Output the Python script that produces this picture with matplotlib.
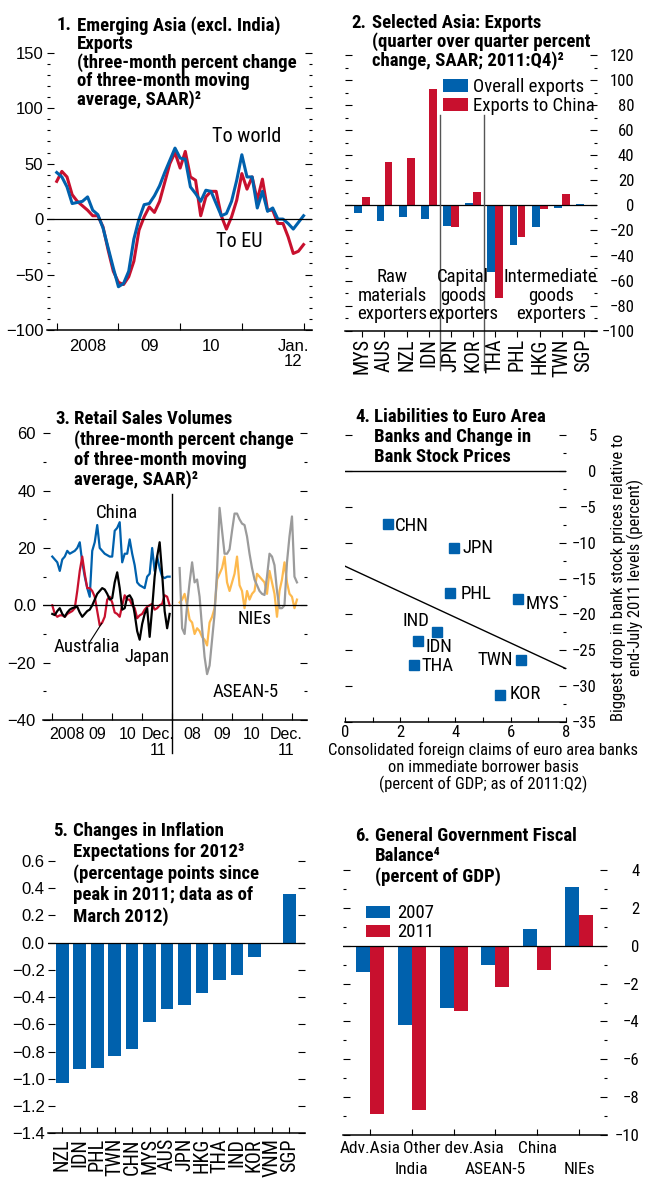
import os
import numpy as np
import matplotlib
matplotlib.use("Agg")
import matplotlib.pyplot as plt
from matplotlib import font_manager as fm
from matplotlib.ticker import MultipleLocator, FuncFormatter

WIDE = ['Liberation Sans', 'DejaVu Sans']
plt.rcParams['font.family'] = WIDE

BLUE = '#0061AD'
RED = '#C8102E'
ORANGE = '#FDB94E'
GRAY = '#9B9B9B'

W, H = 647, 1178

# 1. Экспорт: помесячно, янв. 2008 - янв. 2012
exports_world = [42, 38, 29, 14, 15, 16, 20, 8, 4, -8, -26, -44, -61, -58, -47, -18,
                 0, 13, 14, 21, 30, 42, 53, 64, 55, 54, 29, 23, 16, 26, 25, 14, 3, 5,
                 16, 35, 58, 38, 38, 10, 25, 7, 10, 0, 0, -4, -9, -3, 3]
exports_eu = [34, 43, 38, 22, 16, 12, 8, 3, 3, -7, -28, -47, -57, -59, -52, -38,
              -10, 2, 11, 6, 16, 33, 50, 60, 46, 61, 38, 35, 3, 20, 25, 25, 3, -9,
              2, 17, 41, 27, 38, 17, 36, 8, 8, -4, -4, -16, -31, -29, -23]
p1_year_labels = ['2008', '09', '10', 'Jan.\n12']

# 2. Экспорт по странам, 2011:Q4
p2_countries = ['MYS', 'AUS', 'NZL', 'IDN', 'JPN', 'KOR', 'THA', 'PHL', 'HKG', 'TWN', 'SGP']
p2_overall = [-6, -12.5, -9, -10.5, -16.5, 2, -53, -32, -17, -2, 1]
p2_china = [7, 35, 37.5, 92.5, -17.5, 10.5, -74, -25, -3, 9, 0]
p2_groups = ['Raw\nmaterials\nexporters', 'Capital\ngoods\nexporters',
             'Intermediate\ngoods\nexporters']
p2_group_sizes = [4, 2, 5]

# 3. Розничные продажи: янв. 2008 - дек. 2011 (левая часть)
retail_china = [17, 16, 15, 12, 16, 17, 19, 18, 18.5, 19, 20, 22, 15, 10, 6, 3,
                19, 22, 28, 20, 19, 18, 17.5, 17, 17, 26, 27, 29, 15, 18, 18, 23,
                18, 14, 8, 7, 6.5, 6, 10, 11, 20, 12, 17, 13, 10, 9.5, 10, 10]
retail_australia = [0, -3, -4, -3.5, -3.5, -4, -3, -2.5, -2, -1, 5, 12, 17, 11, 6, 6,
                    5, 3, -2, -7, -6, -4, 2, 3, 1, -2.5, -3, -4, 0, 3.5, 2, 2,
                    0, -1, -4.5, -3.5, -3, -1.5, -0.5, 0, 0.5, -1.5, -1, 0, 0.5, 3.5, 3, 0]
retail_japan = [-3, -3.4, -2, -1, -3, -4, -2.5, -1.5, -1, -0.7, -0.5, -2.5, -4, -3, -2, -1.5,
                0, 2, 4, 5, 6, 5.5, 4, 2, 2.5, 8, 11.5, 6, -1.5, -1, 3, 3.5,
                2, -3, -9, -12, -6.5, -3, -1, -11, -1, 10, 17, 22, 11, -2, -8, -3]
# правая часть: апр. 2008 - март 2012
retail_asean5 = [13, -8, -10, 0, 8, 15, 8, 9, 3, -8, -18, -24, -21, -12, -3, 12,
                 34, 26, 18, 18, 19.5, 26, 32, 32, 30, 28.5, 28, 24, 18, 13, 9, 7,
                 5, 4, 3.6, 10, 18, 17, 14, 5, -1, -1, 0, 15, 24, 31, 10, 8]
retail_nies = [1, 2, 4, 0, -5, -6, -10, -8, -9, -11, -12, -14, -6, -4, -1, 9,
               11, 13, 17, 8, 5, 8, 11, 17, 7, 5, -1, 5, 2, 4, 5, 11,
               10, 9, 8, 4, 12, 8, 4, -4, 5, 9, 15, 8, 4, 3, -1, 2]
p3_left_labels = ['2008', '09', '10', 'Dec.\n11']
p3_right_labels = ['08', '09', '10', 'Dec.\n11']

# 4. Требования банков еврозоны и падение курсов акций банков
p4_countries = ['CHN', 'JPN', 'PHL', 'MYS', 'IND', 'IDN', 'THA', 'TWN', 'KOR']
p4_claims = [1.56, 3.95, 3.81, 6.27, 3.32, 2.63, 2.5, 6.38, 5.62]
p4_drop = [-7.4, -10.7, -17.0, -17.9, -22.4, -23.75, -27.1, -26.4, -31.2]

# 5. Инфляционные ожидания
p5_countries = ['NZL', 'IDN', 'PHL', 'TWN', 'CHN', 'MYS', 'AUS', 'JPN', 'HKG', 'THA',
                'IND', 'KOR', 'VNM', 'SGP']
p5_change = [-1.03, -0.93, -0.92, -0.83, -0.78, -0.58, -0.49, -0.455, -0.37, -0.275,
             -0.235, -0.105, 0.0, 0.355]

# 6. Сальдо бюджета
p6_groups = ['Adv.Asia', 'India', 'Other dev.Asia', 'ASEAN-5', 'China', 'NIEs']
fiscal_2007 = [-1.4, -4.2, -3.3, -1.0, 0.9, 3.1]
fiscal_2011 = [-8.9, -8.7, -3.45, -2.2, -1.3, 1.6]


def find_condensed():
    """Ищем узкий шрифт среди установленных (regular, bold)."""
    files = {os.path.basename(f.fname).lower(): f.fname for f in fm.fontManager.ttflist}
    prefs = [('liberationsansnarrow-regular', 'liberationsansnarrow-bold.'),
             ('robotocondensed-regular', 'robotocondensed-bold.'),
             ('notosans-condensed.', 'notosans-condensedbold.'),
             ('dejavusanscondensed.', 'dejavusanscondensed-bold.'),
             ('opensans-condensedregular', 'opensans-condensedbold.')]
    for reg, bold in prefs:
        r = [p for n, p in files.items() if n.startswith(reg)]
        b = [p for n, p in files.items() if n.startswith(bold)]
        if r:
            return r[0], (b[0] if b else None)
    bad = ('semi', 'extra', 'ital', 'obli', 'light', 'thin', 'medium', 'black')
    r = [p for n, p in files.items() if ('condensed' in n or 'narrow' in n)
         and 'bold' not in n and not any(w in n for w in bad)]
    b = [p for n, p in files.items() if ('condensed' in n or 'narrow' in n)
         and 'bold' in n and not any(w in n for w in bad)]
    return (r[0] if r else None), (b[0] if b else None)


COND_REG, COND_BOLD = find_condensed()


def nfp(size, bold=False):
    path = COND_BOLD if bold else COND_REG
    if path:
        fp = fm.FontProperties(fname=path, size=size)
        if bold and not COND_BOLD:
            fp.set_weight('bold')
        return fp
    return fm.FontProperties(family='DejaVu Sans', size=size * 0.85,
                             weight='bold' if bold else 'normal')


fig = plt.figure(figsize=(W / 100, H / 100), dpi=100)
fig.patch.set_facecolor('white')


def px_axes(left, top, right, bottom):
    """Оси по пиксельным координатам (отсчёт сверху)."""
    return fig.add_axes([left / W, 1 - bottom / H, (right - left) / W, (bottom - top) / H])


def base_style(ax):
    for s in ('left', 'right', 'top'):
        ax.spines[s].set_visible(False)
    ax.spines['bottom'].set_linewidth(1.1)
    ax.patch.set_alpha(0)


def y_ticks(ax, major, minor, side, size, narrow, pad):
    ax.yaxis.set_major_locator(MultipleLocator(major))
    if minor:
        ax.yaxis.set_minor_locator(MultipleLocator(minor))
    ax.tick_params(axis='y', which='both', direction='in', left=True, right=True,
                   labelleft=(side == 'left'), labelright=(side == 'right'), width=0.8)
    ax.tick_params(axis='y', which='major', length=5, pad=pad, labelsize=size)
    ax.tick_params(axis='y', which='minor', length=2.5)
    for t in ax.yaxis.get_major_ticks():
        if side == 'right':
            t.label2.set_horizontalalignment('right')
        if narrow:
            t.label1.set_fontproperties(nfp(size))
            t.label2.set_fontproperties(nfp(size))


def title(num, text, x_num, x_text, top, ls):
    fig.text(x_num / W, 1 - top / H, num, fontproperties=nfp(13.5, True), va='top')
    fig.text(x_text / W, 1 - top / H, text, fontproperties=nfp(13.5, True), va='top',
             linespacing=ls)


minus = lambda s: s.replace('-', '\u2212')

# ---------- 1 ----------
ax1 = px_axes(46.7, 52.7, 312.3, 330)
base_style(ax1)
m1 = np.arange(len(exports_world))
ax1.plot(m1, exports_eu, color=RED, lw=2.2)
ax1.plot(m1, exports_world, color=BLUE, lw=2.2)
ax1.axhline(0, color='black', lw=0.9)
ax1.set_xlim(-1.95, 49.7)
ax1.set_ylim(-100, 150)
y_ticks(ax1, 50, 10, 'left', 12, False, 2.5)
ax1.set_xticks([0, 12, 24, 36, 48])
ax1.tick_params(axis='x', direction='in', length=5, width=0.8, labelbottom=False)
for xpos, lab in zip([6, 18, 30, 46], p1_year_labels):
    ax1.text(xpos, -0.033, lab, transform=ax1.get_xaxis_transform(), ha='center', va='top',
             fontsize=12, linespacing=1.0)
ax1.text(37, 74, 'To world', ha='center', va='center', fontproperties=nfp(14.5))
ax1.text(35.5, -20, 'To EU', ha='center', va='center', fontproperties=nfp(14.5))
title('1.', 'Emerging Asia (excl. India)\nExports\n(three-month percent change\n'
      'of three-month moving\naverage, SAAR)\u00b2', 56.7, 77.3, 16.5, 1.0)

# ---------- 2 ----------
ax2 = px_axes(345, 55, 597.3, 330.7)
base_style(ax2)
x2 = np.arange(len(p2_countries))
ax2.bar(x2 - 0.18, p2_overall, 0.35, color=BLUE, label='Overall exports')
ax2.bar(x2 + 0.18, p2_china, 0.35, color=RED, label='Exports to China')
ax2.axhline(0, color='black', lw=0.9)
ax2.set_xlim(-0.78, 10.6)
ax2.set_ylim(-100, 120)
y_ticks(ax2, 20, 10, 'right', 12, True, 26.6)
ax2.set_xticks(x2)
ax2.set_xticklabels(p2_countries, rotation=90, fontproperties=nfp(14.5))
ax2.tick_params(axis='x', direction='out', length=4, width=0.8, pad=1.5)
bounds = np.cumsum(p2_group_sizes)[:-1] - 0.5
for b in bounds:
    ax2.plot([b, b], [72, -131], color='#555555', lw=1, clip_on=False)
for xpos, lab in zip([1.35, 4.55, 8.5], p2_groups):
    ax2.text(xpos, -72, lab, ha='center', va='center', fontproperties=nfp(13.5),
             linespacing=1.05)
ax2.legend(loc='upper left', bbox_to_anchor=(0.39, 0.915), frameon=False, prop=nfp(13.5),
           handlelength=1.3, handleheight=0.7, labelspacing=0.05, handletextpad=0.3,
           borderpad=0, borderaxespad=0)
title('2.', 'Selected Asia: Exports\n(quarter over quarter percent\nchange, SAAR; 2011:Q4)\u00b2',
      351.7, 371.7, 14.5, 1.0)

# ---------- 3 ----------
ax3 = px_axes(43.3, 433.3, 306.7, 720)
base_style(ax3)
xl = np.arange(len(retail_china))
xr = 51 + np.arange(len(retail_asean5))
ax3.plot(xl, retail_china, color=BLUE, lw=1.6)
ax3.plot(xl, retail_australia, color=RED, lw=1.6)
ax3.plot(xl, retail_japan, color='black', lw=1.6)
ax3.plot(xr, retail_nies, color=ORANGE, lw=1.6)
ax3.plot(xr, retail_asean5, color=GRAY, lw=1.6)
ax3.axhline(0, color='black', lw=0.9)
ax3.set_xlim(-3.6, 101.9)
ax3.set_ylim(-40, 60)
y_ticks(ax3, 20, 10, 'left', 12, False, 5.3)
ax3.yaxis.set_major_formatter(FuncFormatter(
    lambda v, _: '0.0' if v == 0 else minus(f'{v:.0f}')))
ax3.set_xticks([0, 12, 24, 36, 48, 60, 72, 84, 96])
ax3.tick_params(axis='x', direction='in', length=5, width=0.8, labelbottom=False)
for xpos, lab in zip([6, 18, 30, 42.3, 56, 68, 80, 93.5],
                     p3_left_labels + p3_right_labels):
    ax3.text(xpos, -0.023, lab, transform=ax3.get_xaxis_transform(), ha='center', va='top',
             fontsize=11.5, linespacing=1.15)
ax3.plot([48, 48], [39, -51.5], color='black', lw=1, clip_on=False)
ax3.text(25.9, 32.2, 'China', ha='center', va='center', fontproperties=nfp(13.5))
ax3.text(13.8, -14.7, 'Australia', ha='center', va='center', fontproperties=nfp(13.5))
ax3.plot([15.1, 19.8], [-12.7, -6.3], color='black', lw=0.8)
ax3.text(38, -17.9, 'Japan', ha='center', va='center', fontproperties=nfp(13.5))
ax3.text(81, -4.8, 'NIEs', ha='center', va='center', fontproperties=nfp(13.5))
ax3.text(77.6, -30.4, 'ASEAN-5', ha='center', va='center', fontproperties=nfp(13.5))
title('3.', 'Retail Sales Volumes\n(three-month percent change\nof three-month moving\n'
      'average, SAAR)\u00b2', 55, 74, 410.5, 1.12)

# ---------- 4 ----------
ax4 = px_axes(345, 433.3, 565.7, 721.7)
base_style(ax4)
ax4.plot(p4_claims, p4_drop, 's', color=BLUE, markersize=7.5, zorder=3)
coef = np.polyfit(p4_claims, p4_drop, 1)
xs = np.array([0, 8])
ax4.plot(xs, np.polyval(coef, xs), color='black', lw=1)
ax4.axhline(0, color='black', lw=1)
offsets = {'CHN': (7, -2, 'left'), 'JPN': (9, 0, 'left'), 'PHL': (11, -1, 'left'),
           'MYS': (8, -5, 'left'), 'IND': (-7, 11, 'right'), 'IDN': (8, -6, 'left'),
           'THA': (8, -1, 'left'), 'TWN': (-8, 0, 'right'), 'KOR': (10, 1, 'left')}
for name, cx, cy in zip(p4_countries, p4_claims, p4_drop):
    dx, dy, ha = offsets[name]
    ax4.annotate(name, (cx, cy), xytext=(dx, dy), textcoords='offset pixels',
                 ha=ha, va='center', fontproperties=nfp(13.5))
ax4.set_xlim(0, 8)
ax4.set_ylim(-35, 5.3)
y_ticks(ax4, 5, 2.5, 'right', 12, True, 22.3)
ax4.tick_params(axis='y', which='minor', left=False)
ax4.xaxis.set_major_locator(MultipleLocator(2))
ax4.xaxis.set_minor_locator(MultipleLocator(1))
ax4.tick_params(axis='x', which='both', direction='in', length=3.5, width=0.8, pad=2.5)
for t in ax4.xaxis.get_major_ticks():
    t.label1.set_fontproperties(nfp(12))
ax4.text(1.28, 0.5, 'Biggest drop in bank stock prices relative to\nend-July 2011 levels (percent)',
         transform=ax4.transAxes, rotation=90, ha='center', va='center',
         fontproperties=nfp(12), linespacing=1.1)
ax4.text(0.625, -0.072, 'Consolidated foreign claims of euro area banks\n'
         'on immediate borrower basis\n(percent of GDP; as of 2011:Q2)',
         transform=ax4.transAxes, ha='center', va='top', fontproperties=nfp(12),
         linespacing=1.1)
title('4.', 'Liabilities to Euro Area\nBanks and Change in\nBank Stock Prices', 355, 374, 407.5, 1.15)

# ---------- 5 ----------
ax5 = px_axes(48.3, 861, 305, 1133.3)
base_style(ax5)
x5 = np.arange(len(p5_countries))
ax5.bar(x5, p5_change, 0.73, color=BLUE)
ax5.axhline(0, color='black', lw=0.9)
ax5.set_xlim(-0.8, 13.9)
ax5.set_ylim(-1.4, 0.6)
y_ticks(ax5, 0.2, None, 'left', 12, False, 2.5)
ax5.yaxis.set_major_formatter(FuncFormatter(lambda v, _: minus(f'{v:.1f}')))
ax5.set_xticks(x5)
ax5.set_xticklabels(p5_countries, rotation=90, fontproperties=nfp(14.5))
ax5.tick_params(axis='x', direction='in', length=4, width=0.8, pad=3.4)
title('5.', 'Changes in Inflation\nExpectations for 2012\u00b3\n(percentage points since\n'
      'peak in 2011; data as of\nMarch 2012)', 53.3, 72.7, 821.5, 1.22)

# ---------- 6 ----------
ax6 = px_axes(342.7, 870, 606.7, 1135)
base_style(ax6)
x6 = np.arange(len(p6_groups))
ax6.bar(x6 - 0.1675, fiscal_2007, 0.335, color=BLUE, label='2007')
ax6.bar(x6 + 0.1675, fiscal_2011, 0.335, color=RED, label='2011')
ax6.axhline(0, color='black', lw=0.9)
ax6.set_xlim(-0.653, 5.66)
ax6.set_ylim(-10, 4)
y_ticks(ax6, 2, 1, 'right', 12, True, 23.5)
ax6.set_xticks(x6)
# подписи в два ряда: чётные — сверху, нечётные — ниже
ax6.set_xticklabels([g if i % 2 == 0 else '' for i, g in enumerate(p6_groups)],
                    fontproperties=nfp(12.5))
ax6.tick_params(axis='x', direction='in', length=4.5, width=0.8, pad=4)
for i, g in enumerate(p6_groups):
    if i % 2 == 1:
        ax6.text(x6[i], -0.1, g, transform=ax6.get_xaxis_transform(), ha='center',
                 va='top', fontproperties=nfp(12.5))
ax6.legend(loc='upper left', bbox_to_anchor=(0.0885, 0.87), frameon=False, prop=nfp(13.5),
           handlelength=1.3, handleheight=0.65, labelspacing=0.05, handletextpad=0.35,
           borderpad=0, borderaxespad=0)
title('6.', 'General Government Fiscal\nBalance\u2074\n(percent of GDP)', 355, 375, 827, 1.15)

fig.savefig('out.png', dpi=100)
